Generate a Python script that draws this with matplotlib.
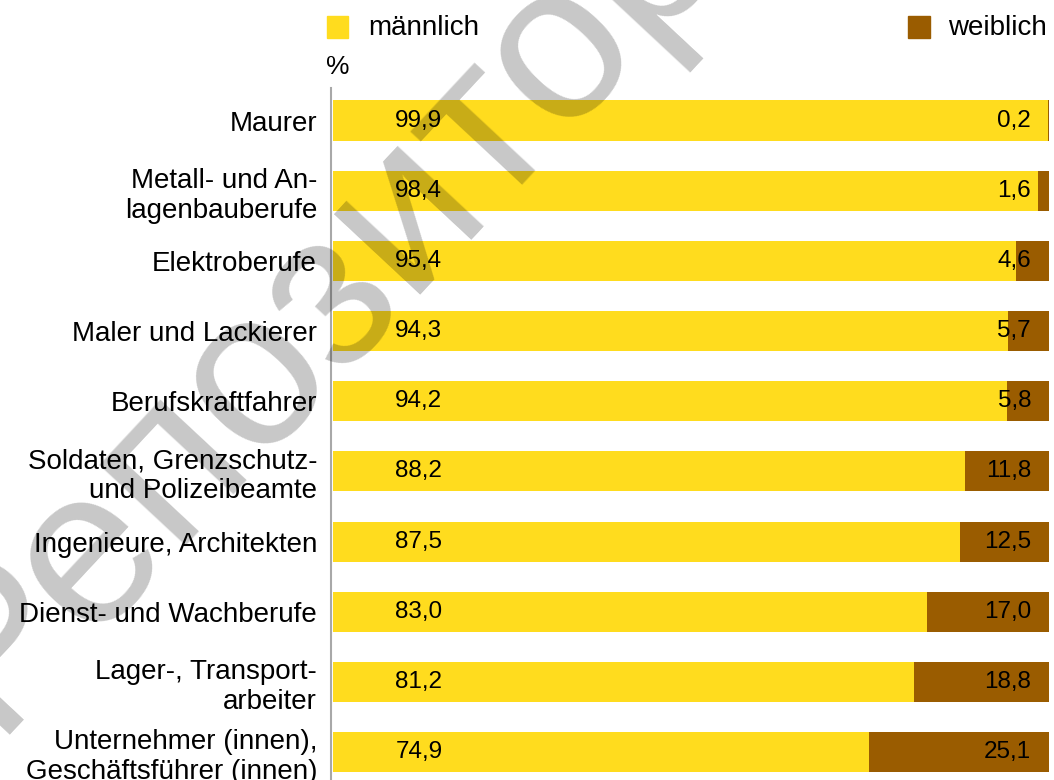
import matplotlib
matplotlib.use('Agg')
import matplotlib.pyplot as plt
from matplotlib.patches import Rectangle

plt.rcParams['font.family'] = ['Liberation Sans', 'DejaVu Sans']

berufe = ['Maurer', 'Metall- und An-\nlagenbauberufe', 'Elektroberufe', 'Maler und Lackierer',
          'Berufskraftfahrer', 'Soldaten, Grenzschutz-\nund Polizeibeamte', 'Ingenieure, Architekten',
          'Dienst- und Wachberufe', 'Lager-, Transport-\narbeiter', 'Unternehmer (innen),\nGeschäftsführer (innen)']
maennlich = [99.9, 98.4, 95.4, 94.3, 94.2, 88.2, 87.5, 83.0, 81.2, 74.9]
weiblich = [0.2, 1.6, 4.6, 5.7, 5.8, 11.8, 12.5, 17.0, 18.8, 25.1]

GELB = '#ffdc1e'
BRAUN = '#9a5c00'

W, H = 1054, 780
fig = plt.figure(figsize=(W / 100, H / 100), dpi=100)
ax = fig.add_axes([333 / W, 0, (1049 - 333) / W, 692 / H])

y = list(range(len(berufe)))
ax.barh(y, maennlich, height=0.57, color=GELB, linewidth=0)
ax.barh(y, weiblich, left=[100 - w for w in weiblich], height=0.57, color=BRAUN, linewidth=0)

def fmt(v):
    return '{:.1f}'.format(v).replace('.', ',')

for i, (m, w) in enumerate(zip(maennlich, weiblich)):
    ax.text(8.7, i, fmt(m), ha='left', va='center', fontsize=17.5, color='black')
    ax.text(97.5, i, fmt(w), ha='right', va='center', fontsize=17.5, color='black')

ax.set_xlim(0, 100)
ax.set_ylim(9.395, -0.463)
ax.set_yticks(y)
ax.set_yticklabels(berufe)
ax.tick_params(axis='y', length=0, pad=10, labelsize=20)
for t in ax.get_yticklabels():
    t.set_linespacing(0.85)
ax.set_xticks([])
for s in ['top', 'right', 'bottom']:
    ax.spines[s].set_visible(False)
ax.spines['left'].set_color('#a8a8a8')
ax.spines['left'].set_linewidth(1.5)
ax.spines['left'].set_position(('outward', 1.5))

# legende und einheit
def fig_xy(xp, yp):
    return xp / W, 1 - yp / H

fig.patches.append(Rectangle(fig_xy(327, 38), 21 / W, 22 / H, color=GELB, transform=fig.transFigure))
fig.text(*fig_xy(368, 28), 'männlich', fontsize=20, va='center', ha='left')
fig.patches.append(Rectangle(fig_xy(908, 38), 22 / W, 22 / H, color=BRAUN, transform=fig.transFigure))
fig.text(*fig_xy(948, 28), 'weiblich', fontsize=20, va='center', ha='left')
fig.text(*fig_xy(326, 67), '%', fontsize=19, va='center', ha='left')

# wasserzeichen
fig.text(*fig_xy(-8, 735), 'Репозиторий', fontsize=160, color='black', alpha=0.22,
         rotation=47, rotation_mode='anchor', ha='left', va='baseline', zorder=10)

fig.savefig('out.png', dpi=100)
